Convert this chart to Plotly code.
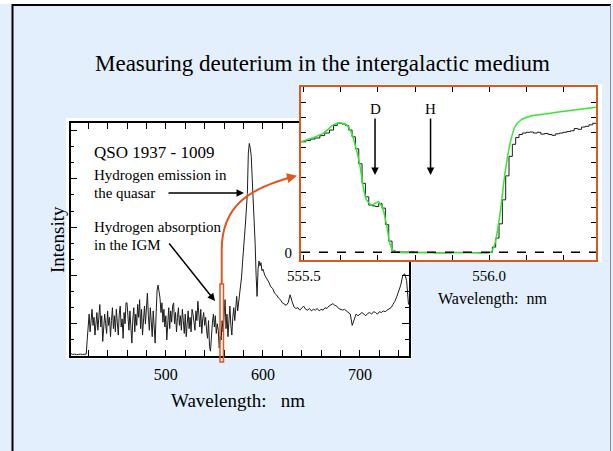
import plotly.graph_objects as go

W, H = 613, 451
F = "Liberation Serif, Times New Roman, serif"
ORANGE = "#e0561f"
GREEN = "#35e635"
BG = "#e3effc"

# ---------------- main spectrum (QSO 1937-1009) ----------------
flat_wl = [402, 404, 406, 408, 410, 412, 414, 416, 418]
flat_int = [0.15, 0.1, 0.12, 0.08, 0.1, 0.12, 0.09, 0.1, 0.12]

forest_wl = list(range(419, 577))
forest_int = [
    1.0,
    1.8, 2.6, 1.5, 2.2, 2.9, 1.9, 2.4, 1.3, 2.0, 2.7,
    1.6, 2.3, 3.2, 1.8, 2.5, 0.9, 1.7, 2.6, 2.0, 1.4,
    2.8, 1.9, 2.4, 1.2, 2.2, 3.0, 1.7, 2.5, 1.5, 2.9,
    2.1, 1.3, 2.6, 3.1, 1.8, 2.3, 1.1, 2.7, 2.0, 3.3,
    3.3, 2.2, 1.6, 2.8, 1.4, 0.8, 2.3, 3.0, 1.5, 2.6,
    1.9, 3.2, 2.4, 3.5, 1.7, 2.9, 1.3, 2.6, 3.1, 2.0,
    3.4, 3.9, 2.5, 1.6, 3.0, 2.2, 1.2, 2.8, 1.9, 0.8,
    2.6, 4.1, 4.4, 3.9, 3.6, 2.7, 3.3, 2.1, 2.9, 1.8,
    2.5, 1.0, 2.3, 3.0, 1.7, 2.8, 2.1, 3.1, 3.3, 2.0,
    2.7, 1.5, 2.4, 3.0, 1.9, 2.5, 1.6, 2.9, 2.2, 1.4,
    2.6, 1.2, 2.0, 2.8, 1.7, 2.4, 1.5, 2.9, 2.6, 2.1,
    1.6, 2.8, 2.2, 3.4, 2.5, 1.8, 2.9, 1.4, 2.3, 2.7,
    1.9, 2.4, 1.6, 1.1, 2.2, 0.6, 0.3, 1.5, 2.1, 2.6,
    1.8, 2.5, 1.4, 2.0, 1.6, 0.5, 1.2, 1.0, 2.2, 1.5,
    2.8, 3.5, 1.7, 2.6, 1.2, 2.0, 3.1, 1.9, 1.3, 2.4,
    3.0, 2.2, 3.3, 3.7, 2.8, 3.3, 3.9,
]

peak_wl = list(range(577, 601))
peak_int = [4.6, 4.9, 5.8, 6.9, 7.4, 8.2, 9.3, 10.1, 12.6, 13.2, 12.9, 12.4,
            11.0, 9.8, 8.3, 7.0, 5.0, 3.7, 5.4, 5.9, 5.6, 5.8, 5.3, 5.4]

red_wl = list(range(602, 752, 2))
red_int = [5.0, 4.8, 4.6, 4.3, 4.2, 3.9, 3.8, 3.6, 3.5, 3.3, 3.2, 3.15, 3.3,
           3.8, 3.4, 3.05, 2.95, 3.0, 2.85, 2.95, 3.1, 2.9, 2.85, 2.95, 2.8,
           2.9, 2.85, 2.95, 2.8, 2.9, 2.85, 3.0, 2.95, 3.1, 3.2, 3.25, 3.15,
           3.1, 2.95, 2.9, 2.85, 2.9, 2.8, 2.7, 2.6, 1.9, 2.3, 2.6, 2.5, 2.6,
           2.7, 2.6, 2.5, 2.65, 2.7, 2.6, 2.75, 2.7, 2.6, 2.75, 2.7, 2.8, 2.75,
           2.85, 2.9, 3.0, 3.2, 3.4, 3.7, 4.0, 4.4, 5.0, 5.1, 4.7, 3.2]

main_wl = flat_wl + forest_wl + peak_wl + red_wl
main_int = flat_int + forest_int + peak_int + red_int

# ---------------- inset: D / H absorption ----------------
obs_wl = [555.492, 555.505, 555.518, 555.530, 555.543, 555.556, 555.569, 555.580,
          555.590, 555.603, 555.612, 555.621, 555.630, 555.639, 555.648, 555.657,
          555.666, 555.675, 555.684, 555.693, 555.702, 555.711, 555.720, 555.729,
          555.738, 555.747, 555.800, 555.850, 555.900, 555.950, 556.000, 556.009,
          556.018, 556.027, 556.036, 556.045, 556.054, 556.063, 556.072, 556.081,
          556.090, 556.100, 556.110, 556.120, 556.130, 556.140, 556.150, 556.160,
          556.170, 556.180, 556.190, 556.200, 556.210, 556.220, 556.230, 556.240,
          556.250, 556.260, 556.270, 556.280, 556.289]
obs_flux = [7.37, 7.45, 7.55, 7.62, 7.78, 7.95, 8.15, 8.45,
            8.6, 8.55, 8.45, 8.15, 7.7, 6.9, 5.9, 4.6,
            3.7, 3.15, 3.1, 3.05, 3.25, 2.95, 1.85, 0.75,
            0.1, 0.02, 0.0, -0.03, 0.0, -0.02, 0.0, 0.35,
            0.95, 1.9, 3.5, 5.1, 6.4, 7.2, 7.65, 7.85,
            7.95, 8.0, 8.02, 7.95, 8.0, 7.88, 7.92, 7.85,
            7.8, 7.9, 7.95, 8.0, 8.05, 8.1, 8.25, 8.2,
            8.35, 8.4, 8.5, 8.6, 8.6]

fit_wl = [555.492, 555.520, 555.552, 555.579, 555.597, 555.615, 555.629, 555.642,
          555.651, 555.660, 555.669, 555.683, 555.701, 555.714, 555.724, 555.732,
          555.741, 555.750, 555.850, 555.950, 556.005, 556.016, 556.030, 556.043,
          556.057, 556.070, 556.086, 556.113, 556.183, 556.289]
fit_flux = [7.37, 7.6, 7.93, 8.49, 8.64, 8.49, 7.93, 6.82,
            5.82, 4.37, 3.49, 3.15, 3.37, 2.82, 1.71, 0.6,
            0.1, 0.0, -0.02, -0.02, 0.0, 0.6, 2.6, 5.26,
            7.26, 8.37, 8.82, 9.09, 9.33, 9.67]

line_labels = ["D", "H"]
line_wl = [555.692, 555.842]

main_xticks = [500, 600, 700]


def px(x):
    return x / W


def py(y):
    return 1 - y / H


fig = go.Figure()
fig.add_trace(go.Scatter(x=main_wl, y=main_int, mode="lines",
                         line=dict(color="#1c1c1c", width=1), xaxis="x", yaxis="y",
                         hoverinfo="skip"))
fig.add_trace(go.Scatter(x=obs_wl, y=obs_flux, mode="lines",
                         line=dict(color="#1c1c1c", width=1, shape="hv"),
                         xaxis="x2", yaxis="y2", hoverinfo="skip"))
fig.add_trace(go.Scatter(x=fit_wl, y=fit_flux, mode="lines",
                         line=dict(color=GREEN, width=1.5, shape="spline", smoothing=0.6),
                         xaxis="x2", yaxis="y2", hoverinfo="skip"))

fig.update_layout(
    width=W, height=H, margin=dict(l=0, r=0, t=0, b=0, pad=0),
    paper_bgcolor=BG, plot_bgcolor="white", showlegend=False,
    font=dict(family=F, color="black"),
    xaxis=dict(domain=[px(70.7), px(409)], range=[402, 750.5], anchor="y",
               automargin=False,
               showgrid=False, zeroline=False, showline=True, linecolor="black",
               linewidth=1.5, mirror="ticks", ticks="inside", ticklen=6, tickwidth=1,
               tickcolor="black", tickmode="array", tickvals=main_xticks,
               tickfont=dict(size=16, family=F, color="black"), ticklabelstandoff=3,
               minor=dict(dtick=20, tick0=400, ticks="inside", ticklen=6,
                          tickcolor="black", showgrid=False)),
    yaxis=dict(domain=[py(356), py(123)], range=[0, 14.47], anchor="x",
               automargin=False,
               showgrid=False, zeroline=False, showline=True, linecolor="black",
               linewidth=1.5, mirror="ticks", ticks="inside", ticklen=7,
               tickcolor="black", tick0=2, dtick=3, showticklabels=False,
               minor=dict(dtick=1, tick0=0, ticks="inside", ticklen=4,
                          tickcolor="black", showgrid=False)),
    xaxis2=dict(domain=[px(301), px(596)], range=[555.492, 556.289], anchor="y2",
                automargin=False,
                showgrid=False, zeroline=False, showline=True, linecolor=ORANGE,
                linewidth=2, mirror="ticks", ticks="inside", ticklen=5,
                tickcolor="black", tick0=555.5, dtick=0.5, tickformat=".1f",
                tickfont=dict(size=15, family=F, color="black"), ticklabelstandoff=1,
                minor=dict(dtick=0.1, tick0=555.5, ticks="inside", ticklen=5,
                           tickcolor="black", showgrid=False)),
    yaxis2=dict(domain=[py(260), py(87)], range=[-0.51, 11.02], anchor="x2",
                automargin=False,
                showgrid=False, zeroline=False, showline=True, linecolor=ORANGE,
                linewidth=2, mirror="ticks", ticks="inside", ticklen=5,
                tickcolor="black", tick0=0, dtick=20,
                tickfont=dict(size=15, family=F, color="black"), ticklabelstandoff=4,
                minor=dict(dtick=1, tick0=0, ticks="inside", ticklen=5,
                           tickcolor="black", showgrid=False)),
)

shapes = [
    # white panels behind the two graphs
    dict(type="rect", xref="paper", yref="paper", x0=px(66), x1=px(412),
         y0=py(359), y1=py(118), fillcolor="white", line=dict(width=0), layer="below"),
    dict(type="rect", xref="paper", yref="paper", x0=px(300), x1=px(602),
         y0=py(262), y1=py(84), fillcolor="white", line=dict(width=0), layer="below"),
    # slide frame
    dict(type="rect", xref="paper", yref="paper", x0=0, x1=1, y0=py(4), y1=1,
         fillcolor="white", line=dict(width=0), layer="below"),
    dict(type="line", xref="paper", yref="paper", x0=px(12), x1=px(611), y0=py(5), y1=py(5),
         line=dict(color="black", width=2)),
    dict(type="line", xref="paper", yref="paper", x0=px(12.5), x1=px(12.5), y0=py(4), y1=0,
         line=dict(color="black", width=2)),
    dict(type="line", xref="paper", yref="paper", x0=px(610.5), x1=px(610.5), y0=py(5), y1=0,
         line=dict(color="#8a8a8a", width=1)),
    # dashed zero level in the inset
    dict(type="line", xref="x2 domain", yref="y2", x0=0, x1=1, y0=0, y1=0,
         line=dict(color="black", width=1.5, dash="dash")),
    # orange marker box on the main spectrum
    dict(type="rect", xref="paper", yref="paper", x0=px(220), x1=px(223.5),
         y0=py(362), y1=py(284), line=dict(color=ORANGE, width=1.5),
         fillcolor="rgba(0,0,0,0)"),
    # orange connecting curve
    dict(type="path", xref="paper", yref="paper",
         path="M {} {} L {} {} C {} {} {} {} {} {}".format(
             px(221.7), py(284), px(221.7), py(250), px(221.7), py(205),
             px(250), py(188), px(294), py(176.5)),
         line=dict(color=ORANGE, width=2)),
]

annotations = [
    dict(text="Measuring deuterium in the intergalactic medium", x=px(322), y=py(64),
         xanchor="center", font=dict(size=23)),
    dict(text="QSO 1937 - 1009", x=px(92), y=py(152), xanchor="left", font=dict(size=17)),
    dict(text="Hydrogen emission in", x=px(92), y=py(175), xanchor="left", font=dict(size=15)),
    dict(text="the quasar", x=px(92), y=py(193), xanchor="left", font=dict(size=15)),
    dict(text="Hydrogen absorption", x=px(92), y=py(227), xanchor="left", font=dict(size=15)),
    dict(text="in the IGM", x=px(92), y=py(245), xanchor="left", font=dict(size=15)),
    dict(text="Intensity", x=px(58), y=py(240), xanchor="center", textangle=-90,
         font=dict(size=19)),
    dict(text="Wavelength:   nm", x=px(238), y=py(400), xanchor="center", font=dict(size=19)),
    dict(text="Wavelength:  nm", x=px(492), y=py(299), xanchor="center", font=dict(size=16)),
]
for a in annotations:
    a.update(xref="paper", yref="paper", showarrow=False, yanchor="middle")

arrows = [
    dict(x=px(244), y=py(193), ax=-77, ay=0),
    dict(x=px(215), y=py(301), ax=-47, ay=-59),
]
for a in arrows:
    a.update(xref="paper", yref="paper", text="", showarrow=True, arrowhead=2,
             arrowsize=1, arrowwidth=1.5, arrowcolor="black", standoff=0)
    annotations.append(a)

annotations.append(dict(xref="paper", yref="paper", x=px(297), y=py(175.7), ax=-12, ay=3,
                        text="", showarrow=True, arrowhead=2, arrowsize=1,
                        arrowwidth=2, arrowcolor=ORANGE, standoff=0))

for lab, wl in zip(line_labels, line_wl):
    annotations.append(dict(xref="x2", yref="y2", x=wl, y=(252.3 - 109) / 15, text=lab,
                            xanchor="center", yanchor="middle",
                            showarrow=False, font=dict(size=15)))
    annotations.append(dict(xref="x2", yref="y2", x=wl, y=(252.3 - 175) / 15, ax=0, ay=-58,
                            text="", showarrow=True, arrowhead=2, arrowsize=1,
                            arrowwidth=1.5, arrowcolor="black", standoff=0))

fig.update_layout(shapes=shapes, annotations=annotations)
fig.write_html("out.html")
